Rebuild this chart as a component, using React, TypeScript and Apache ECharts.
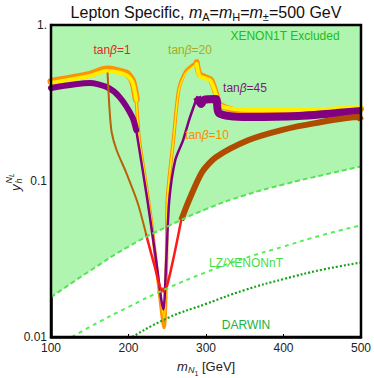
import React, { useEffect, useRef } from "react";
import * as echarts from "echarts";

// XENON1T exclusion boundary (excluded above)
const xenonMass = [100, 150, 200, 250, 300, 350, 400, 450, 500];
const xenonLimit = [0.018, 0.0265, 0.038, 0.051, 0.066, 0.081, 0.095, 0.109, 0.124];
// LZ / XENONnT projection
const lzMass = [127, 150, 200, 250, 300, 350, 400, 450, 500];
const lzLimit = [0.01, 0.0116, 0.0156, 0.0205, 0.026, 0.032, 0.038, 0.045, 0.052];
// DARWIN projection
const darwinMass = [205, 250, 300, 350, 400, 450, 500];
const darwinLimit = [0.01, 0.0132, 0.0163, 0.02, 0.0235, 0.027, 0.03];

// tan beta = 20 (yellow)
const tan20Mass = [100, 150, 172, 197, 205, 210, 214, 222, 229.5, 237, 246, 249, 250, 258, 265, 274, 288, 292, 306, 313, 319, 355, 419, 500];
const tan20Value = [0.425, 0.471, 0.507, 0.478, 0.431, 0.331, 0.183, 0.101, 0.056, 0.027, 0.013, 0.031, 0.0755, 0.183, 0.383, 0.493, 0.562, 0.471, 0.438, 0.356, 0.303, 0.285, 0.285, 0.298];
// tan beta = 10 (orange)
const tan10Mass = [100, 150, 172, 197, 205, 210, 214, 222, 229.5, 237, 246, 249, 250, 258, 265, 274, 288, 292, 306, 313, 319, 355, 419, 500];
const tan10Value = [0.435, 0.483, 0.522, 0.492, 0.44, 0.335, 0.183, 0.1, 0.055, 0.026, 0.0115, 0.03, 0.075, 0.185, 0.39, 0.505, 0.578, 0.482, 0.447, 0.362, 0.305, 0.275, 0.275, 0.29];
// tan beta = 45 (purple)
const tan45Mass = [100, 150, 172, 188.5, 205, 210, 224.4, 234.6, 245, 248.7, 252.6, 260.3, 270.5, 278.2, 287.2, 288.5, 293.6, 297.4, 312.8, 316.7, 355, 419, 500];
const tan45Value = [0.395, 0.425, 0.4, 0.345, 0.257, 0.212, 0.0755, 0.0338, 0.015, 0.031, 0.0755, 0.136, 0.183, 0.246, 0.331, 0.345, 0.312, 0.331, 0.335, 0.272, 0.257, 0.261, 0.281];
// tan beta = 1: excluded-left, allowed, excluded-right parts
const tan1LeftMass = [173, 175.6, 178.2, 184.6, 197.4, 212, 223];
const tan1LeftValue = [0.49, 0.285, 0.206, 0.158, 0.112, 0.072, 0.045];
const tan1MidMass = [223, 233.3, 243.6, 248.7, 259, 268];
const tan1MidValue = [0.045, 0.029, 0.02, 0.0205, 0.0337, 0.056];
const tan1RightMass = [268, 278.2, 294.9, 312.8, 355.1, 397.4, 441, 497, 500];
const tan1RightValue = [0.056, 0.0755, 0.114, 0.142, 0.183, 0.212, 0.235, 0.257, 0.245];

const xTicks = [100, 200, 300, 400, 500];

const FONT = "Liberation Sans, Arial, sans-serif";

const pairs = (xs: number[], ys: number[], from = 0, to = xs.length) =>
  xs.slice(from, to).map((x, i) => [x, ys[from + i]]);

const line = (data: number[][], color: string, width: number, z: number, extra: any = {}) => ({
  type: "line",
  data,
  symbol: "none",
  silent: true,
  smooth: 0.25,
  z,
  lineStyle: { color, width, cap: "round", join: "round", ...(extra.lineStyle || {}) },
  ...extra.rest,
});

export default function App() {
  const ref = useRef<HTMLDivElement>(null);
  useEffect(() => {
    if (!ref.current) return;
    const chart = echarts.init(ref.current, undefined, { renderer: "svg" });
    const purpleLeftEnd = 6;
    const purpleRightStart = 15;
    const yLeftEnd = 6;
    const yRightStart = 16;
    const option: any = {
      animation: false,
      backgroundColor: "#fff",
      textStyle: { fontFamily: FONT },
      grid: {
        left: 51,
        top: 25,
        right: 11,
        bottom: 41,
        show: true,
        borderColor: "#000",
        borderWidth: 2.5,
        backgroundColor: "transparent",
        z: 10,
      },
      xAxis: {
        type: "value",
        min: 100,
        max: 500,
        interval: 100,
        axisLine: { show: true, onZero: false, lineStyle: { color: "#000", width: 2.5 } },
        axisTick: { show: true, inside: true, length: 3, lineStyle: { color: "#000" } },
        axisLabel: {
          color: "#222",
          fontSize: 12,
          fontFamily: FONT,
          margin: 5,
          customValues: xTicks,
        },
        splitLine: { show: false },
      },
      yAxis: {
        type: "log",
        logBase: 10,
        min: 0.01,
        max: 1,
        axisLine: { show: true, lineStyle: { color: "#000", width: 2.5 } },
        axisTick: { show: true, inside: true, length: 3, lineStyle: { color: "#000" } },
        axisLabel: {
          color: "#222",
          fontSize: 12,
          fontFamily: FONT,
          margin: 4,
          formatter: (v: number) => {
            if (Math.abs(v - 1) < 1e-9) return "1.";
            if (Math.abs(v - 0.1) < 1e-9) return "0.1";
            if (Math.abs(v - 0.01) < 1e-9) return "0.01";
            return "";
          },
        },
        splitLine: { show: false },
      },
      series: [
        {
          type: "line",
          data: pairs(xenonMass, xenonLimit),
          symbol: "none",
          silent: true,
          smooth: 0.5,
          z: 1,
          lineStyle: { width: 0, opacity: 0 },
          areaStyle: { origin: "end", color: "#aff5af", opacity: 1 },
        },
        // tan beta = 10 (orange under yellow)
        line(pairs(tan10Mass, tan10Value, 0, yLeftEnd), "#ff9200", 7, 3),
        line(pairs(tan10Mass, tan10Value, yLeftEnd - 1, yRightStart + 1), "#ff9200", 3.5, 3),
        line(pairs(tan10Mass, tan10Value, yRightStart, tan10Mass.length), "#ff9200", 6, 3),
        // tan beta = 20 yellow
        line(pairs(tan20Mass, tan20Value, 0, yLeftEnd), "#ffee00", 4, 4),
        line(pairs(tan20Mass, tan20Value, yLeftEnd - 1, yRightStart + 1), "#ffee00", 1.5, 4),
        line(pairs(tan20Mass, tan20Value, yRightStart, tan20Mass.length), "#ffee00", 4, 4),
        // tan beta = 45 purple
        line(pairs(tan45Mass, tan45Value, 0, purpleLeftEnd), "#820082", 6, 5),
        line(pairs(tan45Mass, tan45Value, purpleLeftEnd - 1, purpleRightStart + 1), "#820082", 2.5, 5),
        line(pairs(tan45Mass, tan45Value, purpleRightStart, tan45Mass.length), "#820082", 8, 5, {
          lineStyle: { cap: "butt" },
        }),
        // tan beta = 1
        line(pairs(tan1LeftMass, tan1LeftValue), "#b8620a", 2, 6),
        line(pairs(tan1MidMass, tan1MidValue), "#ff1a1a", 2.5, 6),
        line(pairs(tan1RightMass, tan1RightValue), "#b04c00", 6, 6, { lineStyle: { cap: "butt" } }),
        {
          type: "scatter",
          data: [[tan1MidMass[2], tan1MidValue[2]]],
          symbol: "rect",
          symbolSize: [5, 5],
          silent: true,
          z: 6,
          itemStyle: { color: "#ff1a1a" },
        },
        // limits
        line(pairs(xenonMass, xenonLimit), "#55e455", 2, 7, {
          lineStyle: { type: [5, 3], cap: "butt" },
          rest: { smooth: 0.5 },
        }),
        line(pairs(lzMass, lzLimit), "#55ee55", 2, 7, {
          lineStyle: { type: [4, 4], cap: "butt" },
          rest: { smooth: 0.5 },
        }),
        line(pairs(darwinMass, darwinLimit), "#17a317", 2.2, 7, {
          lineStyle: { type: [2, 2], cap: "butt" },
          rest: { smooth: 0.5 },
        }),
      ],
      graphic: [
        {
          type: "text",
          x: 206,
          y: 3,
          style: {
            text: "Lepton Specific, {i|m}{s|A}={i|m}{s|H}={i|m}{s|±}=500 GeV",
            fontSize: 16,
            fontFamily: FONT,
            fill: "#111",
            align: "center",
            rich: {
              i: { fontStyle: "italic", fontSize: 16, fontFamily: FONT, fill: "#111" },
              s: { fontSize: 11, fontFamily: FONT, fill: "#111", padding: [8, 0, 0, 0] },
            },
          },
          z: 20,
        },
        {
          type: "text",
          x: 285,
          y: 36,
          style: { text: "XENON1T Excluded", fontSize: 12, fontFamily: FONT, fill: "#22bb22", align: "center", verticalAlign: "middle" },
          z: 20,
        },
        {
          type: "text",
          x: 112,
          y: 50,
          style: {
            text: "tan{b|β}=1",
            fontSize: 12,
            fontFamily: FONT,
            fill: "#ee2222",
            align: "center",
            verticalAlign: "middle",
            rich: { b: { fontStyle: "italic", fontSize: 12, fontFamily: FONT, fill: "#ee2222" } },
          },
          z: 20,
        },
        {
          type: "text",
          x: 190,
          y: 50,
          style: {
            text: "tan{b|β}=20",
            fontSize: 12,
            fontFamily: FONT,
            fill: "#aaaa22",
            align: "center",
            verticalAlign: "middle",
            rich: { b: { fontStyle: "italic", fontSize: 12, fontFamily: FONT, fill: "#aaaa22" } },
          },
          z: 20,
        },
        {
          type: "text",
          x: 245,
          y: 88,
          style: {
            text: "tan{b|β}=45",
            fontSize: 12,
            fontFamily: FONT,
            fill: "#7a1a7a",
            align: "center",
            verticalAlign: "middle",
            rich: { b: { fontStyle: "italic", fontSize: 12, fontFamily: FONT, fill: "#7a1a7a" } },
          },
          z: 20,
        },
        {
          type: "text",
          x: 207,
          y: 135,
          style: {
            text: "tan{b|β}=10",
            fontSize: 12,
            fontFamily: FONT,
            fill: "#ff8a00",
            align: "center",
            verticalAlign: "middle",
            rich: { b: { fontStyle: "italic", fontSize: 12, fontFamily: FONT, fill: "#ff8a00" } },
          },
          z: 20,
        },
        {
          type: "text",
          x: 246,
          y: 263,
          style: { text: "LZ/XENONnT", fontSize: 12, fontFamily: FONT, fill: "#44dd44", align: "center", verticalAlign: "middle" },
          z: 20,
        },
        {
          type: "text",
          x: 246,
          y: 325,
          style: { text: "DARWIN", fontSize: 12, fontFamily: FONT, fill: "#22b040", align: "center", verticalAlign: "middle" },
          z: 20,
        },
        // x-axis title
        {
          type: "group",
          x: 206,
          y: 366,
          children: [
            { type: "text", x: -29, y: 0, style: { text: "m", fontSize: 13, fontStyle: "italic", fontFamily: FONT, fill: "#222", align: "left", verticalAlign: "middle" } },
            { type: "text", x: -18, y: 4, style: { text: "N", fontSize: 9, fontStyle: "italic", fontFamily: FONT, fill: "#222", align: "left", verticalAlign: "middle" } },
            { type: "text", x: -11.5, y: 7, style: { text: "1", fontSize: 7, fontFamily: FONT, fill: "#222", align: "left", verticalAlign: "middle" } },
            { type: "text", x: -4, y: 0, style: { text: "[GeV]", fontSize: 13, fontFamily: FONT, fill: "#222", align: "left", verticalAlign: "middle" } },
          ],
          z: 20,
        },
        // y-axis title (rotated)
        {
          type: "group",
          x: 15,
          y: 178,
          rotation: Math.PI / 2,
          children: [
            { type: "text", x: -13, y: 0, style: { text: "y", fontSize: 13, fontStyle: "italic", fontFamily: FONT, fill: "#222", align: "left", verticalAlign: "middle" } },
            { type: "text", x: -5.5, y: 4, style: { text: "h", fontSize: 9, fontStyle: "italic", fontFamily: FONT, fill: "#222", align: "left", verticalAlign: "middle" } },
            { type: "text", x: -5.5, y: -6, style: { text: "N", fontSize: 9, fontStyle: "italic", fontFamily: FONT, fill: "#222", align: "left", verticalAlign: "middle" } },
            { type: "text", x: 1, y: -3.5, style: { text: "L", fontSize: 6.5, fontStyle: "italic", fontFamily: FONT, fill: "#222", align: "left", verticalAlign: "middle" } },
          ],
          z: 20,
        },
      ],
    };
    chart.setOption(option);
    return () => chart.dispose();
  }, []);
  return (
    <div
      ref={ref}
      style={{ position: "fixed", left: 0, top: 0, width: 374, height: 378 }}
    />
  );
}
